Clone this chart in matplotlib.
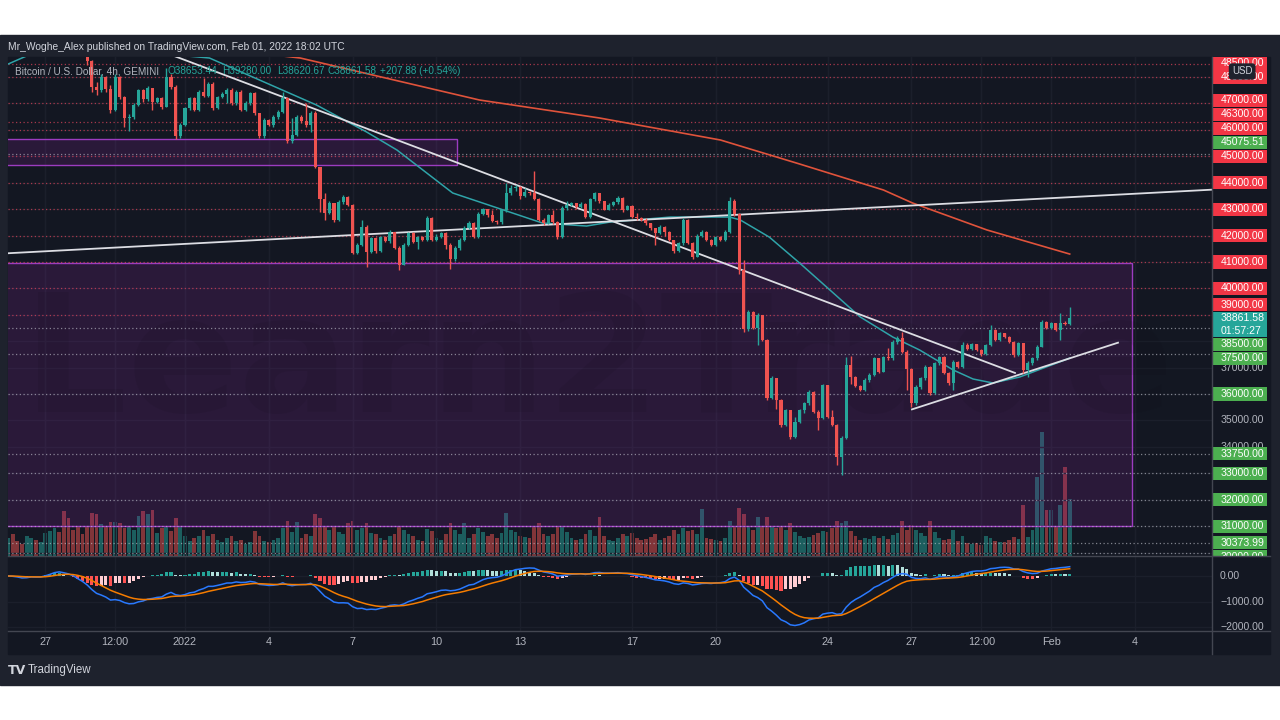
#!/usr/bin/env python3

"""BTC/USD 4h (Gemini) chart as published on TradingView, Feb 01 2022."""

import matplotlib
matplotlib.use("Agg")
import matplotlib.pyplot as plt
import matplotlib.dates as mdates
import matplotlib.transforms as mtransforms
from matplotlib.lines import Line2D
from matplotlib.patches import Rectangle
import numpy as np
import pandas as pd

plt.rcParams["font.family"] = ["Liberation Sans", "DejaVu Sans"]

W, H = 1280, 720
BG = "#131722"
FRAME = "#1e222d"
GRID = "#1b1f2b"
SEP = "#434651"
TXT = "#b2b5be"
UP = "#26a69a"
DOWN = "#ef5350"

# ---- 4h candles, Dec 25 16:00 -> Feb 01 16:00 (UTC) ----
first_open = 50700
close = [
    50900, 50750,
    50550, 50300, 50800, 51050, 50700, 50800,   # Dec 26
    51300, 51600, 51900, 51600, 50900, 50700,   # Dec 27
    50300, 49500, 49300, 48600, 47640, 47510,   # Dec 28
    48010, 47560, 46760, 48000, 47260, 46440,   # Dec 29
    46500, 46940, 47500, 47150, 47570, 47070,   # Dec 30
    47200, 46880, 48000, 47640, 45750, 46180,   # Dec 31
    46810, 47190, 46760, 47450, 47300, 47750,   # Jan 1
    46820, 47250, 47360, 47500, 47010, 47450,   # Jan 2
    46760, 47000, 47380, 46620, 45760, 46370,   # Jan 3
    46200, 46480, 46680, 47190, 45570, 45820,   # Jan 4
    46490, 46320, 46190, 46650, 44610, 43400,   # Jan 5
    42850, 43220, 42600, 43280, 43470, 43150,   # Jan 6
    41350, 41640, 42330, 41390, 41890, 41400,   # Jan 7
    41950, 41800, 42140, 41520, 40900, 41640,   # Jan 8
    42080, 41770, 41960, 41830, 42650, 41850,   # Jan 9
    41960, 42100, 41640, 41100, 41520, 41830,   # Jan 10
    42300, 42480, 41960, 42820, 42990, 42780,   # Jan 11
    42550, 42500, 42960, 43600, 43800, 43850,   # Jan 12
    43480, 43660, 43600, 43400, 42590, 42480,   # Jan 13
    42780, 42520, 41950, 43030, 43160, 43220,   # Jan 14
    43080, 43200, 42700, 43370, 43600, 43300,   # Jan 15
    42980, 43170, 43280, 43430, 42970, 43110,   # Jan 16
    42720, 42650, 42600, 42470, 42280, 42080,   # Jan 17
    42330, 42150, 41830, 41400, 41700, 42600,   # Jan 18
    41720, 41200, 41980, 42140, 41850, 41640,   # Jan 19
    41950, 41840, 42150, 43300, 42800, 40700,   # Jan 20
    38450, 39120, 38500, 38990, 38050, 35840,   # Jan 21
    36600, 35780, 34830, 35390, 34390, 34950,   # Jan 22
    35390, 35650, 36090, 35340, 35100, 36340,   # Jan 23
    35150, 34830, 33630, 34320, 37100, 36660,   # Jan 24
    36300, 36160, 36530, 36720, 37350, 36850,   # Jan 25
    37410, 37350, 37980, 38110, 37610, 36950,   # Jan 26
    35650, 36280, 36600, 37030, 36030, 37160,   # Jan 27
    37410, 36790, 36410, 37230, 37040, 37850,   # Jan 28
    37700, 37880, 37680, 37500, 37860, 38430,   # Jan 29
    38050, 38300, 38170, 37980, 37480, 37920,   # Jan 30
    36910, 37160, 37350, 37800, 38740, 38490,   # Jan 31
    38680, 38430, 38700, 38653.44, 38861.58,    # Feb 1
]
high = [
    51100, 51000,
    50900, 50600, 50900, 51300, 51200, 51000,
    51500, 51900, 52100, 52000, 51700, 51100,
    50800, 50400, 49700, 49400, 48650, 47800,
    48100, 48050, 47700, 48100, 48050, 47300,
    46600, 47000, 47550, 47550, 47650, 47600,
    47250, 47250, 48330, 48100, 47700, 46250,
    46850, 47250, 47250, 47500, 47950, 47800,
    47800, 47300, 47450, 47600, 47580, 47500,
    47500, 47100, 47450, 47450, 46650, 46450,
    46400, 46550, 46750, 47450, 47250, 46440,
    46550, 46550, 47000, 46700, 46700, 44600,
    43600, 43300, 43250, 43350, 43550, 43500,
    43200, 41700, 42590, 42400, 41950, 41950,
    42000, 42000, 42210, 42150, 41600, 41700,
    42150, 42150, 42000, 42000, 42750, 42700,
    42050, 42150, 42150, 41700, 41600, 41900,
    42350, 42550, 42500, 42900, 43050, 43000,
    42960, 42600, 43000, 44000, 43900, 43900,
    43880, 43790, 43700, 44450, 43420, 42650,
    42800, 42950, 42550, 43100, 43300, 43280,
    43250, 43260, 43220, 43420, 43650, 43620,
    43320, 43220, 43320, 43480, 43450, 43150,
    43150, 42850, 42700, 42650, 42480, 42300,
    42400, 42350, 42180, 41850, 41750, 42650,
    42620, 41750, 42050, 42200, 42160, 41880,
    42000, 41980, 42200, 43450, 43400, 42850,
    41080, 39200, 39150, 39050, 39000, 38100,
    36700, 36620, 35800, 35420, 35400, 35150,
    35450, 35700, 36150, 36100, 35400, 36400,
    36350, 35400, 34850, 34400, 37400, 37450,
    36700, 36350, 36600, 36800, 37420, 37380,
    37450, 37730, 38050, 38200, 38350, 37650,
    37000, 36350, 36650, 37100, 37050, 37200,
    37450, 37450, 36850, 37280, 37260, 37980,
    37950, 37950, 37900, 37700, 37900, 38620,
    38450, 38350, 38320, 38200, 38000, 37980,
    37950, 37250, 37400, 37850, 38800, 38760,
    38720, 38700, 39060, 38760, 39280,
]
low = [
    50600, 50500,
    50300, 50100, 50250, 50700, 50500, 50550,
    50700, 51200, 51500, 51300, 50700, 50400,
    50100, 49300, 49000, 48450, 47450, 47320,
    47450, 47450, 46650, 46700, 47150, 46120,
    45950, 46400, 46900, 47050, 47100, 46750,
    47000, 46800, 46850, 47550, 45650, 45700,
    46150, 46750, 46700, 46700, 47250, 47250,
    46750, 46800, 47200, 47000, 46950, 46950,
    46700, 46700, 46950, 46550, 45700, 45700,
    46150, 46100, 46400, 46650, 45500, 45500,
    45780, 46250, 46100, 45930, 44550, 42900,
    42600, 42800, 42500, 42550, 43200, 43100,
    41300, 41300, 41600, 40820, 41350, 41350,
    41380, 41750, 41700, 41480, 40700, 40880,
    41600, 41700, 41500, 41780, 41800, 41800,
    41800, 41900, 41500, 40750, 41050, 41450,
    41800, 42250, 41900, 41900, 42780, 42700,
    42500, 42450, 42450, 42900, 43550, 43700,
    43400, 43450, 43550, 43350, 42550, 42400,
    42450, 42450, 41880, 41900, 42950, 43100,
    43000, 43050, 42650, 42680, 43300, 43250,
    42950, 42950, 43100, 43200, 42900, 42950,
    42650, 42600, 42550, 42400, 42200, 41650,
    42050, 42000, 41800, 41350, 41380, 41650,
    41680, 41130, 41180, 41950, 41800, 41600,
    41600, 41780, 41800, 42100, 42750, 40550,
    38350, 38400, 38450, 37860, 38000, 35780,
    35800, 35450, 34770, 34800, 34300, 34350,
    34900, 35300, 35600, 35300, 34640, 35050,
    35100, 34780, 33300, 32950, 34300, 36400,
    36250, 36100, 36120, 36450, 36700, 36800,
    36820, 37300, 37300, 37900, 37550, 36150,
    35520, 35600, 36200, 36550, 35980, 36000,
    37100, 36750, 36350, 36150, 37000, 37000,
    37650, 37650, 37640, 37450, 37480, 37830,
    38000, 38000, 38120, 37950, 37420, 37450,
    36800, 36650, 37100, 37300, 37780, 38450,
    38450, 38380, 38050, 38600, 38620.67,
]
volume = [
    180, 220,
    150, 120, 200, 180, 160, 140,
    230, 250, 280, 240, 450, 380,
    260, 300, 220, 300, 430, 420,
    320, 300, 340, 340, 330, 280,
    300, 260, 400, 450, 420, 460,
    230, 280, 300, 250, 380, 300,
    200, 150, 180, 200, 260, 200,
    220, 160, 140, 180, 200, 150,
    160, 120, 140, 250, 200, 150,
    140, 160, 180, 280, 350, 240,
    340, 180, 220, 200, 420, 380,
    300, 260, 300, 240, 220, 330,
    350, 260, 280, 330, 230, 220,
    180, 160, 200, 220, 300, 260,
    220, 200, 160, 150, 270, 250,
    180, 160, 220, 330, 260, 220,
    330, 180, 220, 280, 240, 200,
    220, 180, 230, 430, 260, 240,
    200, 190, 180, 300, 330, 220,
    200, 220, 290, 300, 240, 180,
    160, 170, 220, 260, 200, 390,
    200, 160, 150, 180, 220, 200,
    230, 180, 160, 170, 190, 220,
    160, 180, 200, 260, 220, 280,
    250, 260, 220, 470, 180, 170,
    160, 150, 180, 350, 300, 480,
    420, 300, 260, 390, 300, 390,
    300, 280, 300, 260, 330, 240,
    200, 180, 190, 210, 230, 250,
    240, 280, 350, 330, 350, 250,
    200, 160, 180, 170, 200, 180,
    200, 170, 210, 230, 350, 260,
    310, 260, 230, 200, 350, 240,
    180, 160, 170, 260, 150, 200,
    130, 120, 130, 110, 200, 180,
    150, 140, 140, 160, 190, 170,
    510, 190, 260, 790, 1240, 460,
    460, 300, 510, 890, 570,
]
bar_times = pd.date_range("2021-12-25 16:00", periods=len(close), freq="4h")

# moving averages
ema_fast_t = ["2021-12-25 16:00", "2021-12-26 06:00", "2021-12-27 12:00", "2021-12-28 12:00",
              "2021-12-29 12:00", "2021-12-30 12:00", "2021-12-31 12:00", "2022-01-01 21:00",
              "2022-01-05 17:00", "2022-01-07 12:00", "2022-01-08 14:00", "2022-01-10 14:00",
              "2022-01-13 19:00", "2022-01-15 09:00", "2022-01-16 05:00", "2022-01-18 09:00",
              "2022-01-20 12:00", "2022-01-20 21:00", "2022-01-21 22:00", "2022-01-23 00:00",
              "2022-01-24 02:00", "2022-01-25 04:00", "2022-01-26 08:00", "2022-01-27 07:00",
              "2022-01-28 12:00", "2022-01-29 05:00", "2022-01-29 22:00", "2022-01-30 21:00",
              "2022-02-01 16:00"]
ema_fast_v = [48490, 48760, 49300, 49500, 49250, 49000, 48850, 48720,
              46940, 45920, 45240, 43610, 42475, 42360, 42510, 42700,
              42700, 42590, 41940, 40960, 39940, 38920, 38160, 37670,
              36910, 36570, 36420, 36645, 37360]
ema_slow_t = ["2021-12-25 16:00", "2021-12-29 00:00", "2022-01-02 00:00", "2022-01-05 03:00",
              "2022-01-11 13:00", "2022-01-15 20:00", "2022-01-20 04:00", "2022-01-23 00:00",
              "2022-01-26 00:00", "2022-01-27 01:00", "2022-01-29 17:00", "2022-02-01 16:00"]
ema_slow_v = [50000, 49600, 49100, 48720, 47130, 46450, 45616, 44708, 43724, 43232, 42210, 41300]

# drawings
trend_down = (["2021-12-30 12:00", "2022-01-30 17:00"], [49240, 36800])
trend_flat = (["2021-12-25 16:00", "2022-02-07 00:00"], [41330, 43750])
trend_up = (["2022-01-27 00:30", "2022-02-03 09:30"], [35420, 37945])
zone_top = ("2021-12-24 00:00", "2022-01-10 17:40", 44670, 45654)
zone_big = ("2021-12-24 00:00", "2022-02-03 21:30", 31000, 40970)

red_levels = [48500, 48000, 47000, 46300, 46000, 45000, 44000, 43000, 42000, 41000, 40000, 39000]
green_levels = [45075.51, 38500, 37500, 36000, 33750, 33000, 32000, 31000, 30373.99, 30000]
price_ticks = list(range(30000, 49000, 1000))
macd_ticks = [0, -1000, -2000]
macd_tick_labels = ["0.00", "\u22121000.00", "\u22122000.00"]

time_ticks = ["2021-12-27", "2021-12-29 12:00", "2022-01-01", "2022-01-04", "2022-01-07",
              "2022-01-10", "2022-01-13", "2022-01-17", "2022-01-20", "2022-01-24",
              "2022-01-27", "2022-01-29 12:00", "2022-02-01", "2022-02-04"]
time_labels = ["27", "12:00", "2022", "4", "7", "10", "13", "17", "20", "24", "27",
               "12:00", "Feb", "4"]
countdown = "01:57:27"
change_text = "+207.88 (+0.54%)"


def px_rect(x0, y0, x1, y1):
    return [x0 / W, 1 - y1 / H, (x1 - x0) / W, (y1 - y0) / H]


def dnum(s):
    return mdates.date2num(pd.to_datetime(s))


def bare(a):
    for s in a.spines.values():
        s.set_visible(False)
    a.tick_params(length=0, labelleft=False, labelbottom=False)


fig = plt.figure(figsize=(W / 100, H / 100), dpi=100, facecolor="white")
fig.add_artist(Rectangle((0, 1 - 685 / H), 1, 650 / H, transform=fig.transFigure,
                         color=FRAME, zorder=-10))
fig.add_artist(Rectangle((8 / W, 1 - 654 / H), 1262 / W, 597 / H, transform=fig.transFigure,
                         color=BG, zorder=-9))

main_rect = px_rect(8, 57, 1212, 556)
ax_vol = fig.add_axes(main_rect, facecolor=BG)
ax = fig.add_axes(main_rect, facecolor="none")
ax_macd = fig.add_axes(px_rect(8, 556, 1212, 631), facecolor=BG)
ax_lab = fig.add_axes(px_rect(1212, 57, 1270, 556), facecolor=BG)
ax_mlab = fig.add_axes(px_rect(1212, 556, 1270, 631), facecolor=BG)
for a in (ax_vol, ax, ax_macd, ax_lab, ax_mlab):
    bare(a)

xlim = (dnum("2021-12-25 15:58"), dnum("2022-02-06 18:15"))
ylim = (29871, 48758)
t = mdates.date2num(bar_times)
c = np.array(close, dtype=float)
o = np.r_[first_open, c[:-1]]
hi = np.array(high, dtype=float)
lo = np.array(low, dtype=float)
colors = np.where(c >= o, UP, DOWN)

# volume overlay
ax_vol.bar(t, volume, width=0.135, color=colors, alpha=0.5, linewidth=0)
ax_vol.set_xlim(xlim)
ax_vol.set_ylim(0, max(volume) * 4.02)

# price pane
ax.set_xlim(xlim)
ax.set_ylim(ylim)
tick_nums = [dnum(s) for s in time_ticks]
ax.set_xticks(tick_nums)
ax.set_yticks(price_ticks)
ax.grid(True, color=GRID, linewidth=1, zorder=0)
ax.set_axisbelow(True)
ax_vol.set_xticks(tick_nums)
ax_vol.grid(True, axis="x", color=GRID, linewidth=1)

for z in (zone_top, zone_big):
    x0, x1 = dnum(z[0]), dnum(z[1])
    ax.add_patch(Rectangle((x0, z[2]), x1 - x0, z[3] - z[2], facecolor="#9c27b0",
                           alpha=0.17, edgecolor="none", zorder=1))
    ax.add_patch(Rectangle((x0, z[2]), x1 - x0, z[3] - z[2], facecolor="none",
                           edgecolor="#9c3cc0", linewidth=1, zorder=1.2))

ax.text(0.49, 0.38, "Learn2Trade", transform=ax.transAxes, ha="center", va="center",
        fontsize=118, fontweight="bold", color="#0d0a14", alpha=0.09, zorder=1.5,
        family="DejaVu Sans")

for p in red_levels:
    ax.axhline(p, color="#d9435a", alpha=0.75, linewidth=0.9, linestyle=(0, (1, 2)), zorder=2)
for p in green_levels:
    ax.axhline(p, color="#c8cad3", alpha=0.6, linewidth=0.9, linestyle=(0, (1, 2)), zorder=2)

ax.plot([dnum(s) for s in ema_slow_t], ema_slow_v, color="#e0533b", linewidth=1.2, zorder=3)
ax.plot([dnum(s) for s in ema_fast_t], ema_fast_v, color="#2fa4a9", linewidth=1.1, zorder=3)
for tl in (trend_down, trend_flat, trend_up):
    ax.plot([dnum(s) for s in tl[0]], tl[1], color="#dcdde3", linewidth=1.3, zorder=4)

ax.vlines(t, lo, hi, colors=colors, linewidth=1, zorder=5)
ax.bar(t, np.maximum(np.abs(c - o), 25), bottom=np.minimum(o, c), width=0.11,
       color=colors, linewidth=0, zorder=6)

# MACD (12, 26, 9) from the closes
s = pd.Series(c)
macd = s.ewm(span=12, adjust=False).mean() - s.ewm(span=26, adjust=False).mean()
signal = macd.ewm(span=9, adjust=False).mean()
hist = macd - signal
prev = hist.shift(1).fillna(0)
hcol = np.where(hist >= 0,
                np.where(hist > prev, "#26a69a", "#b2dfdb"),
                np.where(hist > prev, "#ffcdd2", "#ff5252"))
ax_macd.set_xlim(xlim)
ax_macd.set_ylim(-2140, 778)
ax_macd.set_xticks(tick_nums)
ax_macd.set_yticks(macd_ticks)
ax_macd.grid(True, color=GRID, linewidth=1, zorder=0)
ax_macd.set_axisbelow(True)
ax_macd.bar(t, hist, width=0.11, color=hcol, linewidth=0, zorder=2)
ax_macd.plot(t, macd, color="#2979ff", linewidth=1.1, zorder=3)
ax_macd.plot(t, signal, color="#f57c00", linewidth=1.1, zorder=3)
ax_macd.set_xticklabels(time_labels)
ax_macd.tick_params(labelbottom=True, labelcolor=TXT, labelsize=7.8, pad=4.5)

# price scale: coloured level tags, stacked so they do not collide
ax_lab.set_xlim(0, 1)
ax_lab.set_ylim(ylim)
blend = mtransforms.blended_transform_factory(ax_lab.transAxes, ax_lab.transData)


def to_px(p):
    return ax_lab.transData.transform((0.5, p))[1]


def to_price(py):
    return ax_lab.transData.inverted().transform((0.5, py))[1]


tag_spans = []


def tag(py_center, n_lines, face, texts):
    top = py_center + 6.6
    bot = py_center - 6.6 - 12.4 * (n_lines - 1)
    tag_spans.append((bot, top))
    b, tp = to_price(bot), to_price(top)
    ax_lab.add_patch(Rectangle((0.017, b), 0.931, tp - b, transform=blend,
                               facecolor=face, edgecolor="none", zorder=5))
    for k, txt in enumerate(texts):
        ax_lab.text(0.155, to_price(py_center - 12.4 * k), txt, color="white", fontsize=7.6,
                    va="center", ha="left", zorder=6, clip_on=True)


last = c[-1]
cur = to_px(last)
step = 14.0
labels = [(p, "#f23645") for p in red_levels] + [(p, "#4caf50") for p in green_levels]
limit = cur + 6.6
for p, col in sorted([l for l in labels if l[0] > last]):
    y = max(to_px(p), limit + step / 2)
    tag(y, 1, col, [f"{p:.2f}"])
    limit = y + step / 2
limit = cur - 6.6 - 12.4
for p, col in sorted([l for l in labels if l[0] < last], reverse=True):
    y = min(to_px(p), limit - step / 2)
    tag(y, 1, col, [f"{p:.2f}"])
    limit = y - step / 2
tag(cur, 2, UP, [f"{last:.2f}", countdown])

# plain scale ticks, only where the tags leave them visible
for p in price_ticks:
    py = to_px(p)
    covered = sum(max(0.0, min(py + 5.5, top) - max(py - 5.5, bot)) for bot, top in tag_spans)
    if covered < 6.5:
        ax_lab.text(0.155, p, f"{p:.2f}", color=TXT, fontsize=7.6, va="center", ha="left",
                    zorder=2)

ax_lab.text(0.52, 0.971, "USD", transform=ax_lab.transAxes, ha="center", va="center",
            color="#d1d4dc", fontsize=7, zorder=8,
            bbox=dict(boxstyle="round,pad=0.25", fc=FRAME, ec=FRAME))

ax_mlab.set_xlim(0, 1)
ax_mlab.set_ylim(ax_macd.get_ylim())
for v, lab in zip(macd_ticks, macd_tick_labels):
    ax_mlab.text(0.14, v, lab, color=TXT, fontsize=7.6, va="center", ha="left")

# pane separators
for y in (556, 631):
    fig.add_artist(Line2D([8 / W, 1270 / W], [1 - y / H] * 2, color=SEP, linewidth=1,
                          transform=fig.transFigure))
fig.add_artist(Line2D([1212 / W] * 2, [1 - 57 / H, 1 - 654 / H], color=SEP, linewidth=1,
                      transform=fig.transFigure))

# header, legend, logo
fig.text(8 / W, 1 - 47 / H, "Mr_Woghe_Alex published on TradingView.com, Feb 01, 2022 18:02 UTC",
         color="#d1d4dc", fontsize=7.4, va="center", ha="left")
fig.text(15 / W, 1 - 71 / H, "Bitcoin / U.S. Dollar, 4h, GEMINI", color=TXT, fontsize=7.2,
         va="center", ha="left")
ohlc = [(167, f"O{o[-1]:.2f}"), (222, f"H{hi[-1]:.2f}"), (277, f"L{lo[-1]:.2f}"),
        (328, f"C{c[-1]:.2f}"), (380, change_text)]
for x, txt in ohlc:
    fig.text(x / W, 1 - 71 / H, txt, color=UP, fontsize=7.2, va="center", ha="left")
fig.text(8 / W, 1 - 670 / H, "TV", color="#d1d4dc", fontsize=9, fontweight="bold",
         va="center", ha="left", family="DejaVu Sans")
fig.text(28 / W, 1 - 670 / H, "TradingView", color="#d1d4dc", fontsize=8.3,
         va="center", ha="left")

fig.savefig("out.png", dpi=100, facecolor="white")
